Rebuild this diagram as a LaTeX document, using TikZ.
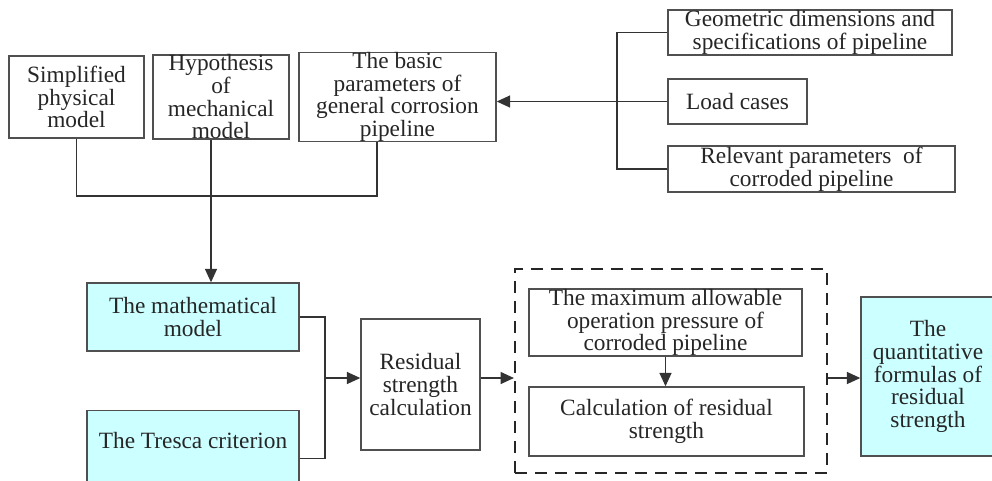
\documentclass[tikz,border=0pt]{standalone}
\usepackage{fontspec}
\setmainfont{Liberation Serif}
\usetikzlibrary{arrows.meta,positioning}
\definecolor{boxline}{HTML}{505050}
\definecolor{paleblue}{HTML}{CCFFFF}
\tikzset{
  box/.style={draw=boxline,line width=1.1pt,fill=white,align=center,inner sep=0pt,
    text=black!85,font=\fontsize{17.5}{17}\selectfont},
  bluebox/.style={box,fill=paleblue},
  dashbox/.style={draw=black!85,line width=1.6pt,dash pattern=on 9pt off 6pt,inner sep=0pt},
  link/.style={draw=black!80,line width=0.9pt},
  arr/.style={link,-{Triangle[length=10pt,width=9pt]}}
}

\begin{document}
\begin{tikzpicture}[x=0.75pt,y=-0.75pt]
\useasboundingbox (0,0) rectangle (992,480);
% top row
\node[box,minimum width=101.25pt,minimum height=61.5pt] (simp) at (76.5,97) {Simplified\\physical\\model};
\node[box,minimum width=102pt,minimum height=61.5pt] (hypo) at (221,97) {Hypothesis\\of\\mechanical\\model};
\node[box,minimum width=147.75pt,minimum height=61.5pt] (basic) at (397.5,97) {The basic\\parameters of\\general corrosion\\pipeline};
% input data
\node[box,minimum width=213pt,minimum height=33.75pt] (geo) at (810,32.5) {Geometric dimensions and\\specifications of pipeline};
\node[box,minimum width=104.25pt,minimum height=33.75pt] (load) at (737.5,101.5) {Load cases};
\node[box,minimum width=215.25pt,minimum height=34.5pt] (relv) at (811.5,169) {Relevant parameters\ \ of\\corroded pipeline};
\coordinate (brk) at (617,101);
\draw[link] (geo.west) -| (brk) |- (relv.west);
\draw[arr] (load.west) -- (load.west -| basic.east);
% mathematical model
\node[bluebox,minimum width=159pt,minimum height=51pt] (math) at (193,317) {The mathematical\\model};
\node[bluebox,minimum width=159pt,text height=28pt,text depth=44pt,anchor=north] (tresca) at (193,410) {The Tresca criterion};
\coordinate (join) at (211,196);
\draw[link] (simp.south) |- (join);
\draw[link] ([xshift=-15.4pt]basic.south) |- (join);
\draw[link] (hypo.south -| join) -- (join);
\draw[arr] (join) -- (join |- math.north);
% residual strength
\node[box,minimum width=89.25pt,minimum height=98.25pt] (resid) at (420.5,384.5) {Residual\\strength\\calculation};
\coordinate (mj) at (325,378);
\draw[link] (math.east) -| (mj);
\draw[link] (tresca.east) -| (mj);
\draw[arr] (mj) -- (mj -| resid.west);
\node[dashbox,minimum width=234pt,minimum height=153pt] (grp) at (671,371) {};
\node[box,minimum width=204.75pt,minimum height=50.25pt] (maxp) at (665.5,322.5) {The maximum allowable\\operation pressure of\\corroded pipeline};
\node[box,minimum width=206.25pt,minimum height=51.75pt] (calc) at (666.5,421.5) {Calculation of residual\\strength};
\draw[arr] (maxp.south) -- (maxp.south |- calc.north);
\node[bluebox,minimum width=100.5pt,minimum height=119.25pt] (quant) at (928,376.5) {The\\quantitative\\formulas of\\residual\\strength};
\draw[arr] (resid.east |- mj) -- (grp.west |- mj);
\draw[arr] (grp.east |- mj) -- (quant.west |- mj);
\end{tikzpicture}
\end{document}
